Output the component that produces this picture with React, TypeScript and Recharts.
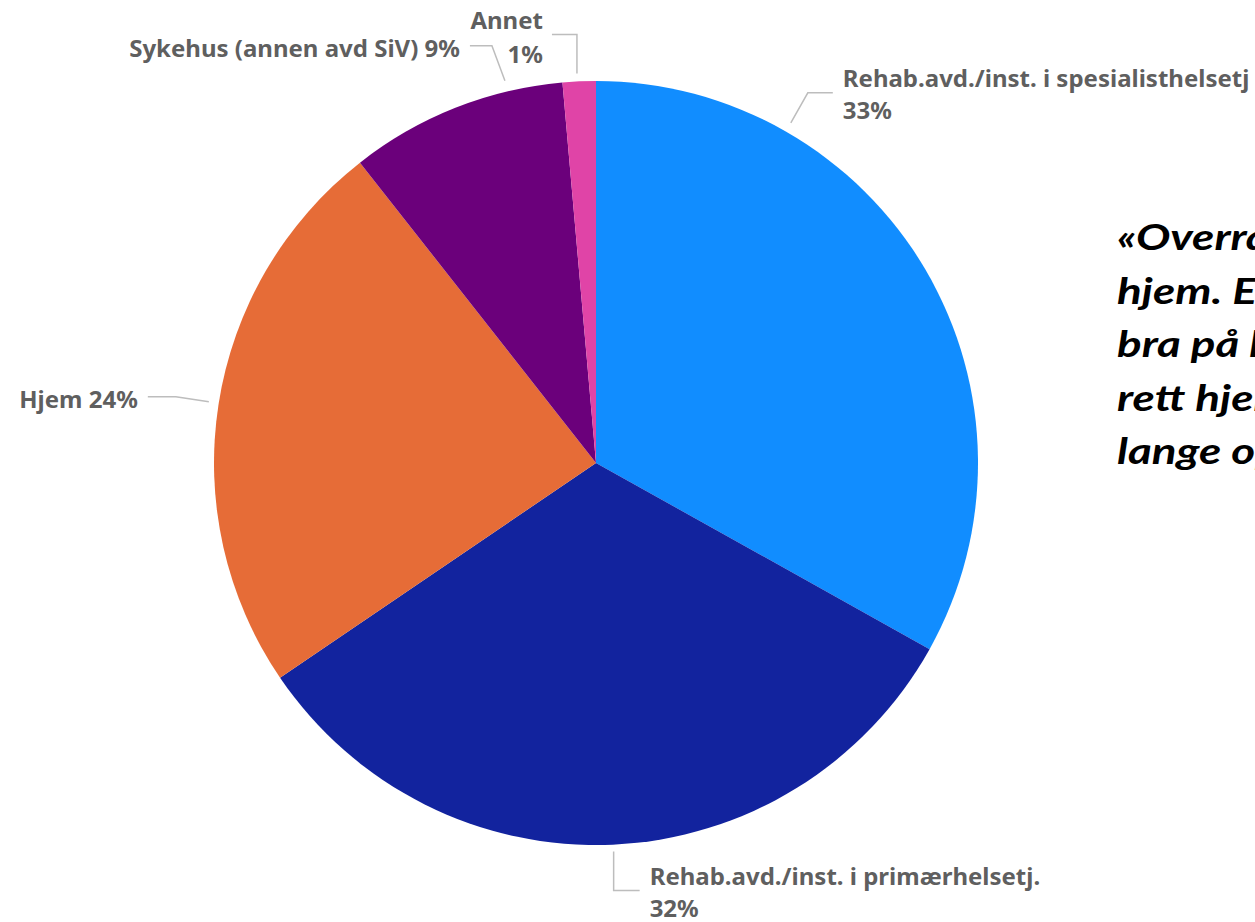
import { PieChart, Pie, Cell } from 'recharts';

// Andeler (%) lest av bildet, med klokka fra kl. 12
const categories = [
  'Rehab.avd./inst. i spesialisthelsetj',
  'Rehab.avd./inst. i primærhelsetj.',
  'Hjem',
  'Sykehus (annen avd SiV)',
  'Annet',
];
const shares = [33.1, 32.4, 23.9, 9.2, 1.4];
const percentLabels = ['33%', '32%', '24%', '9%', '1%'];
const quoteLines = [
  '«Overraskende få kom rett',
  'hjem. En del kunne klart seg',
  'bra på korttidsplass, eller',
  'rett hjem med tjenester i',
  'lange opphold»',
];

const colors = ['#118dff', '#12239e', '#e66c37', '#6b007b', '#e044a7'];

const data = categories.map((name, i) => ({ name, value: shares[i] }));

// Etikettplassering: vinkel (grader med klokka fra kl. 12), avstand utenfor sektoren,
// knekkpunkt og endepunkt for linja relativt til start, og tekststil.
type LabelLayout = {
  angle: number;
  gap: number;
  elbow: [number, number];
  end: [number, number];
  mode: 'right2' | 'left1' | 'left2';
};
const labelLayout: LabelLayout[] = [
  { angle: 29.8, gap: 10, elbow: [17, -30], end: [42, -30], mode: 'right2' },
  { angle: 177.4, gap: 7, elbow: [0, 39], end: [26, 39], mode: 'right2' },
  { angle: 279, gap: 10, elbow: [-33, -5], end: [-61, -5], mode: 'left1' },
  { angle: 346.6, gap: 11, elbow: [-13, -35], end: [-35, -35], mode: 'left1' },
  { angle: 357.2, gap: 8, elbow: [0, -39], end: [-25, -39], mode: 'left2' },
];

const labelStyle = {
  fontFamily: '"Noto Sans", "Open Sans", sans-serif',
  fontWeight: 700,
  fontSize: 24,
  fill: '#5f5f5f',
};

function renderLabel(props: any) {
  const { cx, cy, outerRadius, index } = props;
  const l = labelLayout[index];
  const rad = (l.angle * Math.PI) / 180;
  const r = outerRadius + l.gap;
  const sx = cx + r * Math.sin(rad);
  const sy = cy - r * Math.cos(rad);
  const ex = sx + l.elbow[0];
  const ey = sy + l.elbow[1];
  const tx = sx + l.end[0];
  const ty = sy + l.end[1];
  const name = categories[index];
  const pct = percentLabels[index];
  let text;
  if (l.mode === 'right2') {
    text = (
      <text x={tx + 10} y={ty} {...labelStyle} textAnchor="start">
        <tspan x={tx + 10} y={ty - 15} dominantBaseline="central">{name}</tspan>
        <tspan x={tx + 10} y={ty + 17} dominantBaseline="central">{pct}</tspan>
      </text>
    );
  } else if (l.mode === 'left1') {
    text = (
      <text x={tx - 10} y={ty + 2} {...labelStyle} textAnchor="end" dominantBaseline="central">
        {`${name} ${pct}`}
      </text>
    );
  } else {
    text = (
      <text x={tx - 9} y={ty} {...labelStyle} textAnchor="end">
        <tspan x={tx - 9} y={ty - 15} dominantBaseline="central">{name}</tspan>
        <tspan x={tx - 9} y={ty + 19} dominantBaseline="central">{pct}</tspan>
      </text>
    );
  }
  return (
    <g key={`label-${index}`}>
      <polyline
        points={`${sx},${sy} ${ex},${ey} ${tx},${ty}`}
        fill="none"
        stroke="#bdbdbd"
        strokeWidth={1.5}
      />
      {text}
    </g>
  );
}

export default function App() {
  return (
    <div
      style={{
        position: 'fixed',
        left: 0,
        top: 0,
        width: 1255,
        height: 922,
        overflow: 'hidden',
        background: '#ffffff',
      }}
    >
      <PieChart
        width={1255}
        height={922}
        margin={{ top: 0, right: 0, bottom: 0, left: 0 }}
        style={{ position: 'absolute', left: 0, top: 0 }}
      >
        <Pie
          data={data}
          dataKey="value"
          nameKey="name"
          cx={596}
          cy={463}
          outerRadius={382}
          startAngle={90}
          endAngle={-270}
          stroke="none"
          label={renderLabel}
          labelLine={false}
          isAnimationActive={false}
        >
          {data.map((d, i) => (
            <Cell key={d.name} fill={colors[i]} />
          ))}
        </Pie>
      </PieChart>
      {/* sitatet er strukket litt på bredden i originalen */}
      <div
        style={{
          position: 'absolute',
          left: 1117,
          top: 210,
          whiteSpace: 'nowrap',
          fontFamily: 'Lato, "Noto Sans", sans-serif',
          fontWeight: 700,
          fontStyle: 'italic',
          fontSize: 36,
          lineHeight: '53.5px',
          color: '#000000',
          transform: 'scaleX(1.27)',
          transformOrigin: 'left top',
        }}
      >
        {quoteLines.map((line) => (
          <div key={line}>{line}</div>
        ))}
      </div>
    </div>
  );
}
